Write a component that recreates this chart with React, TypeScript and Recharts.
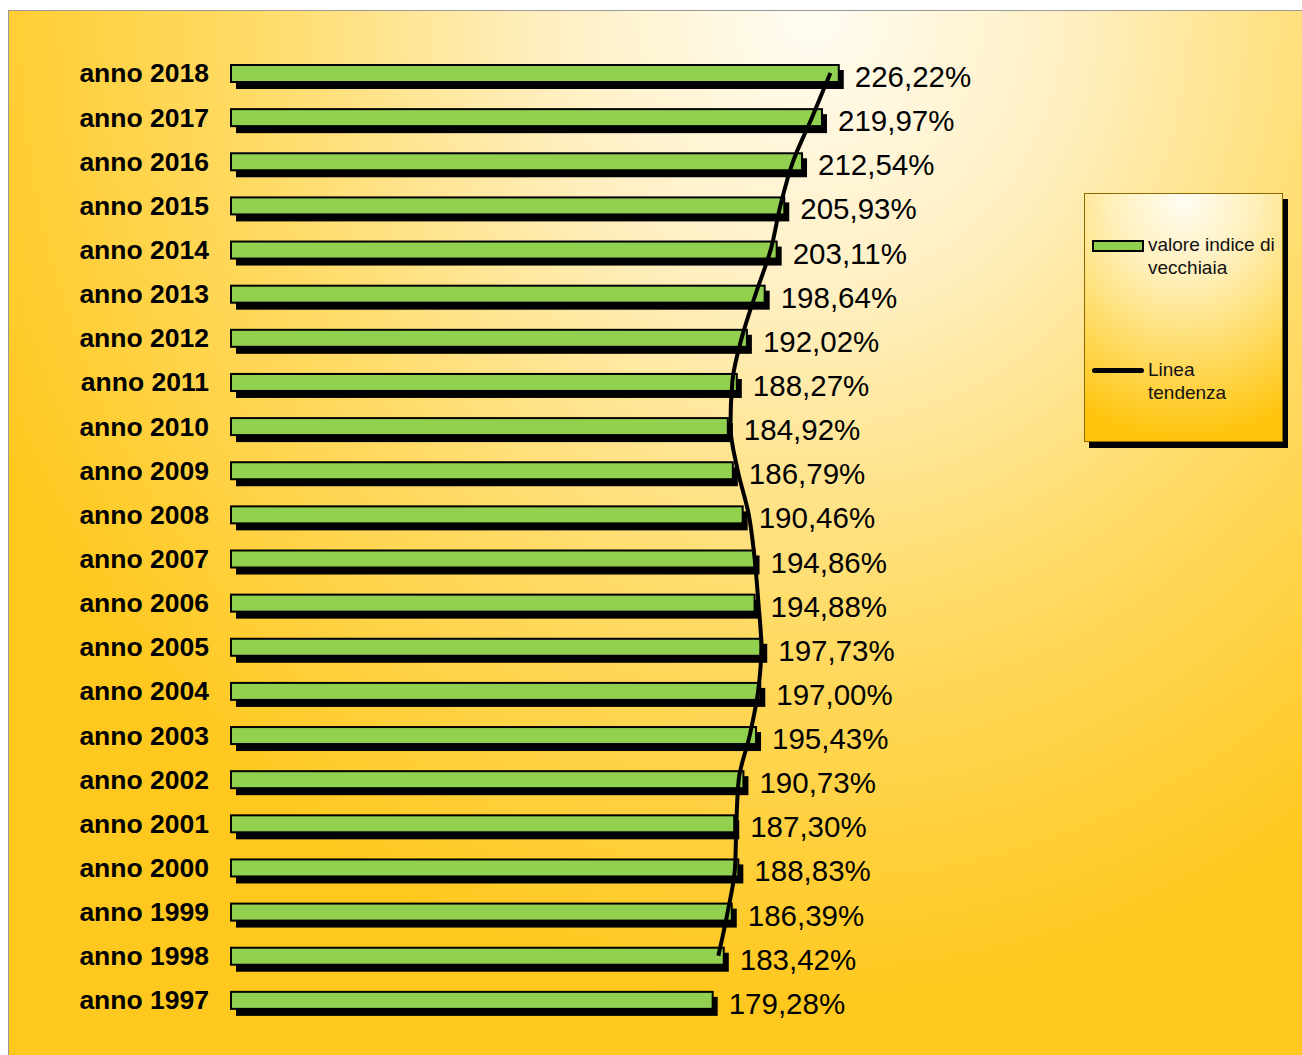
import { ComposedChart, Bar, Line, XAxis, YAxis, LabelList } from "recharts"

// anni dal più recente al più vecchio (come nel grafico)
const anni = [
  "anno 2018", "anno 2017", "anno 2016", "anno 2015", "anno 2014", "anno 2013",
  "anno 2012", "anno 2011", "anno 2010", "anno 2009", "anno 2008", "anno 2007",
  "anno 2006", "anno 2005", "anno 2004", "anno 2003", "anno 2002", "anno 2001",
  "anno 2000", "anno 1999", "anno 1998", "anno 1997",
]

const indiceVecchiaia = [
  226.22, 219.97, 212.54, 205.93, 203.11, 198.64,
  192.02, 188.27, 184.92, 186.79, 190.46, 194.86,
  194.88, 197.73, 197.0, 195.43, 190.73, 187.3,
  188.83, 186.39, 183.42, 179.28,
]

// linea di tendenza (manca per il 1997)
const tendenza: (number | null)[] = [
  223.1, 216.3, 209.2, 204.5, 200.9, 195.3,
  190.1, 186.6, 185.9, 188.6, 192.7, 194.9,
  196.3, 197.4, 196.2, 193.1, 189.0, 188.1,
  187.6, 184.9, 181.4, null,
]

const data = anni.map((anno, i) => ({
  anno,
  valore: indiceVecchiaia[i],
  tendenza: tendenza[i],
}))

const FONT = "'Liberation Sans', Arial, sans-serif"

const formatPct = (v: number) => v.toFixed(2).replace(".", ",") + "%"

function BarraOmbra(props: any) {
  const { x, y, width, height } = props
  return (
    <g>
      <rect x={x + 5} y={y + 5} width={width} height={height + 2} fill="#000" />
      <rect x={x} y={y} width={width} height={height} fill="#92D050" stroke="#000" strokeWidth={2} />
    </g>
  )
}

function Etichetta(props: any) {
  const { x, y, width, height, value } = props
  return (
    <text
      x={x + width + 16}
      y={y + height / 2 + 3}
      dominantBaseline="central"
      fontSize={29.5}
      fontFamily={FONT}
      fill="#000"
    >
      {formatPct(value)}
    </text>
  )
}

function Legenda() {
  return (
    <div
      style={{
        position: "absolute",
        left: 1075,
        top: 182,
        width: 199,
        height: 249,
        border: "1px solid #8a6a00",
        boxSizing: "border-box",
        background: "radial-gradient(ellipse 110% 100% at 50% 0%, #FFFDF4 0%, #FFEFB8 35%, #FFD95A 70%, #FFC30A 100%)",
        boxShadow: "5px 6px 0 #000",
        fontFamily: FONT,
        fontSize: 19,
        color: "#111",
        lineHeight: "23px",
      }}
    >
      <div style={{ position: "absolute", left: 7, top: 46, width: 52, height: 12, background: "#92D050", border: "2px solid #000", boxSizing: "border-box" }} />
      <div style={{ position: "absolute", left: 63, top: 39, whiteSpace: "nowrap" }}>
        valore indice di
        <br />
        vecchiaia
      </div>
      <div style={{ position: "absolute", left: 7, top: 174, width: 52, height: 5, background: "#000", borderRadius: 3 }} />
      <div style={{ position: "absolute", left: 63, top: 164 }}>
        Linea
        <br />
        tendenza
      </div>
    </div>
  )
}

export default function App() {
  return (
    <div
      style={{
        position: "absolute",
        left: 8,
        top: 10,
        width: 1294,
        height: 1045,
        borderTop: "1px solid #999",
        borderLeft: "1px solid #999",
        boxSizing: "border-box",
        overflow: "hidden",
        background:
          "radial-gradient(ellipse 70% 95% at 62% 0%, #FFFCF2 0%, #FFF0C4 28%, #FFDB66 62%, #FFC81E 100%)",
      }}
    >
      <ComposedChart
        width={1294}
        height={1045}
        data={data}
        layout="vertical"
        margin={{ top: 40, right: 266, bottom: 34, left: 0 }}
      >
        <XAxis type="number" domain={[0, 300]} hide />
        <YAxis
          type="category"
          dataKey="anno"
          width={222}
          tickLine={false}
          axisLine={false}
          tickSize={0}
          tickMargin={22}
          tick={{ fill: "#000", fontSize: 26.5, fontWeight: "bold", fontFamily: FONT }}
        />
        <Bar dataKey="valore" barSize={17} shape={<BarraOmbra />} isAnimationActive={false}>
          <LabelList dataKey="valore" content={<Etichetta />} />
        </Bar>
        <Line
          dataKey="tendenza"
          type="monotone"
          stroke="#000"
          strokeWidth={4}
          dot={false}
          activeDot={false}
          isAnimationActive={false}
        />
      </ComposedChart>
      <Legenda />
    </div>
  )
}
